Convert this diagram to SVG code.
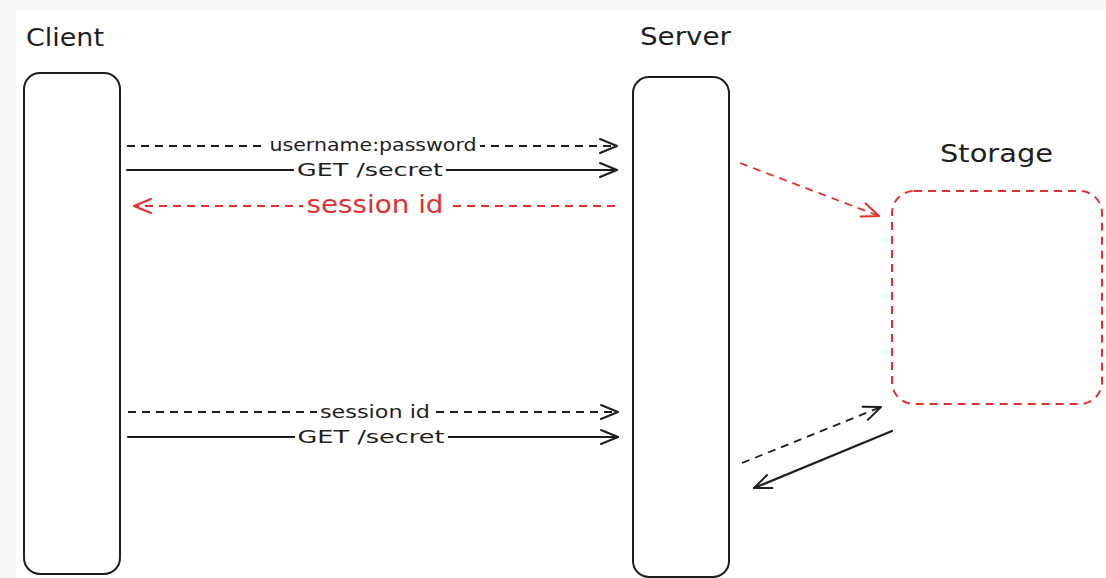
<svg xmlns="http://www.w3.org/2000/svg" width="1106" height="578" viewBox="0 0 1106 578">
  <style>
    .box { fill: #ffffff; stroke: #1e1e1e; stroke-width: 2; }
    .store { fill: none; stroke: #e03131; stroke-width: 2; stroke-dasharray: 8 6; }
    .title { font-family: "DejaVu Sans", sans-serif; font-size: 24px; fill: #1e1e1e; }
    .lbl { font-family: "DejaVu Sans", sans-serif; font-size: 18px; fill: #1e1e1e; text-anchor: middle; }
    .lbl-red { font-family: "DejaVu Sans", sans-serif; font-size: 24px; fill: #e03131; text-anchor: middle; }
    .solid { fill: none; stroke: #1e1e1e; stroke-width: 2.2; stroke-linecap: round; }
    .dash { fill: none; stroke: #1e1e1e; stroke-width: 1.8; stroke-dasharray: 8 6; }
    .dash-red { fill: none; stroke: #e03131; stroke-width: 1.8; stroke-dasharray: 8 6; }
    .mask { fill: #ffffff; }
  </style>
  <defs>
    <marker id="head" viewBox="-20 -10 22 20" markerWidth="22" markerHeight="20" refX="0" refY="0" orient="auto" markerUnits="userSpaceOnUse">
      <path d="M-17,-7 L0,0 L-17,7" fill="none" stroke="#1e1e1e" stroke-width="2" stroke-linecap="round" stroke-linejoin="round"/>
    </marker>
    <marker id="head-red" viewBox="-20 -10 22 20" markerWidth="22" markerHeight="20" refX="0" refY="0" orient="auto" markerUnits="userSpaceOnUse">
      <path d="M-17,-7 L0,0 L-17,7" fill="none" stroke="#e03131" stroke-width="2" stroke-linecap="round" stroke-linejoin="round"/>
    </marker>
  </defs>

  <!-- canvas -->
  <rect x="0" y="0" width="1106" height="578" fill="#f7f7f7"/>
  <rect x="16" y="10" width="1090" height="568" fill="#ffffff"/>

  <!-- Client lifeline -->
  <g id="client">
    <text class="title" x="26" y="46" textLength="78" lengthAdjust="spacingAndGlyphs">Client</text>
    <rect class="box" x="24" y="73" width="96" height="501" rx="16"/>
  </g>

  <!-- Server lifeline -->
  <g id="server">
    <text class="title" x="640" y="45" textLength="91" lengthAdjust="spacingAndGlyphs">Server</text>
    <rect class="box" x="633" y="77" width="96" height="500" rx="16"/>
  </g>

  <!-- Storage -->
  <g id="storage">
    <text class="title" x="940" y="162" textLength="113" lengthAdjust="spacingAndGlyphs">Storage</text>
    <rect class="store" x="892" y="191" width="210" height="213" rx="22"/>
  </g>

  <!-- messages -->
  <g id="connectors">
    <!-- login: credentials + request -->
    <line class="dash" x1="127" y1="146" x2="617" y2="146" marker-end="url(#head)"/>
    <rect class="mask" x="267" y="136" width="213" height="20"/>
    <text class="lbl" x="373" y="151" textLength="207" lengthAdjust="spacingAndGlyphs">username:password</text>

    <line class="solid" x1="127" y1="170" x2="617" y2="170" marker-end="url(#head)"/>
    <rect class="mask" x="294" y="160" width="152" height="20"/>
    <text class="lbl" x="370" y="176" textLength="146" lengthAdjust="spacingAndGlyphs">GET /secret</text>

    <!-- response with session id -->
    <line class="dash-red" x1="615" y1="206" x2="134" y2="206" marker-end="url(#head-red)"/>
    <rect class="mask" x="303" y="193" width="145" height="26"/>
    <text class="lbl-red" x="375" y="213" textLength="137" lengthAdjust="spacingAndGlyphs">session id</text>

    <!-- later request carrying session id -->
    <line class="dash" x1="128" y1="412" x2="618" y2="412" marker-end="url(#head)"/>
    <rect class="mask" x="317" y="402" width="116" height="20"/>
    <text class="lbl" x="375" y="418" textLength="110" lengthAdjust="spacingAndGlyphs">session id</text>

    <line class="solid" x1="128" y1="437" x2="618" y2="437" marker-end="url(#head)"/>
    <rect class="mask" x="295" y="427" width="153" height="20"/>
    <text class="lbl" x="371" y="443" textLength="147" lengthAdjust="spacingAndGlyphs">GET /secret</text>

    <!-- server <-> storage -->
    <line class="dash-red" x1="740" y1="163" x2="879" y2="216" marker-end="url(#head-red)"/>
    <line class="dash" x1="742" y1="463" x2="881" y2="407" marker-end="url(#head)"/>
    <line class="solid" x1="892" y1="431" x2="754" y2="488" marker-end="url(#head)"/>
  </g>
</svg>
